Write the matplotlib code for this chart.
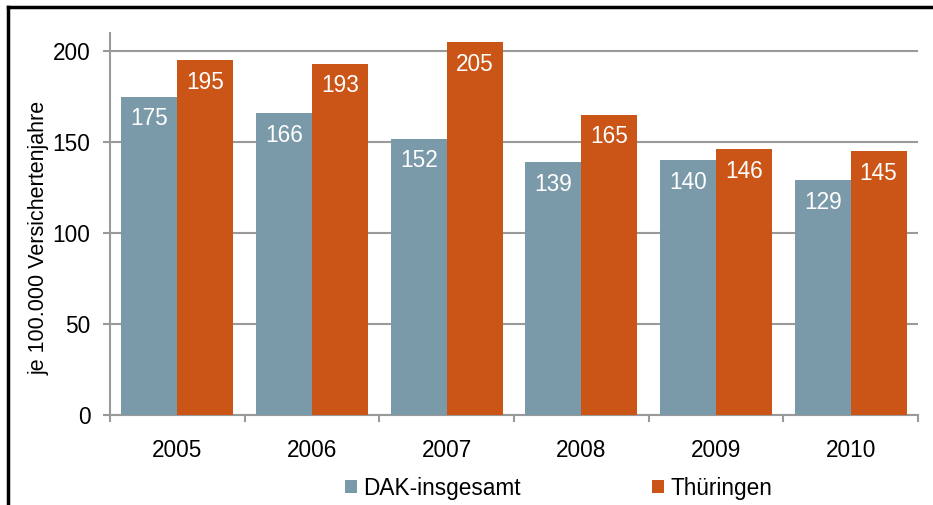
import matplotlib
matplotlib.use("Agg")
import matplotlib.pyplot as plt
import numpy as np
from matplotlib.lines import Line2D

years = ["2005", "2006", "2007", "2008", "2009", "2010"]
dak = [175, 166, 152, 139, 140, 129]
thueringen = [195, 193, 205, 165, 146, 145]
series_names = ["DAK-insgesamt", "Thüringen"]
y_ticks = [0, 50, 100, 150, 200]

plt.rcParams['font.family'] = ['Liberation Sans', 'DejaVu Sans']

c_dak = "#7B9AA9"
c_th = "#CA5516"
grid_c = "#9A9A9A"
fs = 16.3

fig = plt.figure(figsize=(9.33, 5.05), dpi=100)
ax = fig.add_axes([110/933, 1-415/505, (918-110)/933, (415-33)/505])

x = np.arange(len(years))
w = 0.415
b1 = ax.bar(x - w/2, dak, width=w, color=c_dak, label=series_names[0], zorder=3)
b2 = ax.bar(x + w/2, thueringen, width=w, color=c_th, label=series_names[1], zorder=3)

for bars, vals in ((b1, dak), (b2, thueringen)):
    for rect, v in zip(bars, vals):
        ax.annotate(str(v), (rect.get_x() + rect.get_width()/2, v),
                    xytext=(0, -22), textcoords='offset pixels',
                    ha='center', va='center', color='white', fontsize=fs, zorder=4)

ax.set_xlim(-0.5, len(years) - 0.5)
ax.set_ylim(0, 210)
ax.set_yticks(y_ticks)
ax.set_yticklabels([str(t) for t in y_ticks])
ax.yaxis.grid(True, color=grid_c, linewidth=1.5, zorder=0)
ax.set_axisbelow(True)

ax.set_xticks(x)
ax.set_xticklabels(years)
ax.tick_params(axis='x', which='major', length=0, pad=17, labelsize=fs)
ax.set_xticks(np.arange(len(years) + 1) - 0.5, minor=True)
ax.tick_params(axis='x', which='minor', length=5, color=grid_c, width=1.5)
ax.tick_params(axis='y', length=5, color=grid_c, width=1.5, pad=9, labelsize=fs)

for s in ('top', 'right'):
    ax.spines[s].set_visible(False)
for s in ('left', 'bottom'):
    ax.spines[s].set_color(grid_c)
    ax.spines[s].set_linewidth(1.5)

fig.text(39/933, 1-238/505, "je 100.000 Versichertenjahre", rotation=90,
         ha='center', va='center', fontsize=15.5)

fig.legend(handles=[b1, b2], labels=series_names, loc='center left',
           bbox_to_anchor=(345/933, 1-488/505), borderpad=0, borderaxespad=0,
           ncol=2, frameon=False, fontsize=fs, handlelength=0.53, handleheight=0.53,
           handletextpad=0.28, columnspacing=5.8)

# outer frame (top and left visible)
fig.add_artist(Line2D([8/933, 1.0], [1-7/505, 1-7/505], transform=fig.transFigure, color='black', linewidth=2.5))
fig.add_artist(Line2D([8/933, 8/933], [0, 1-7/505], transform=fig.transFigure, color='black', linewidth=2.5))

fig.savefig("out.png", dpi=100)
